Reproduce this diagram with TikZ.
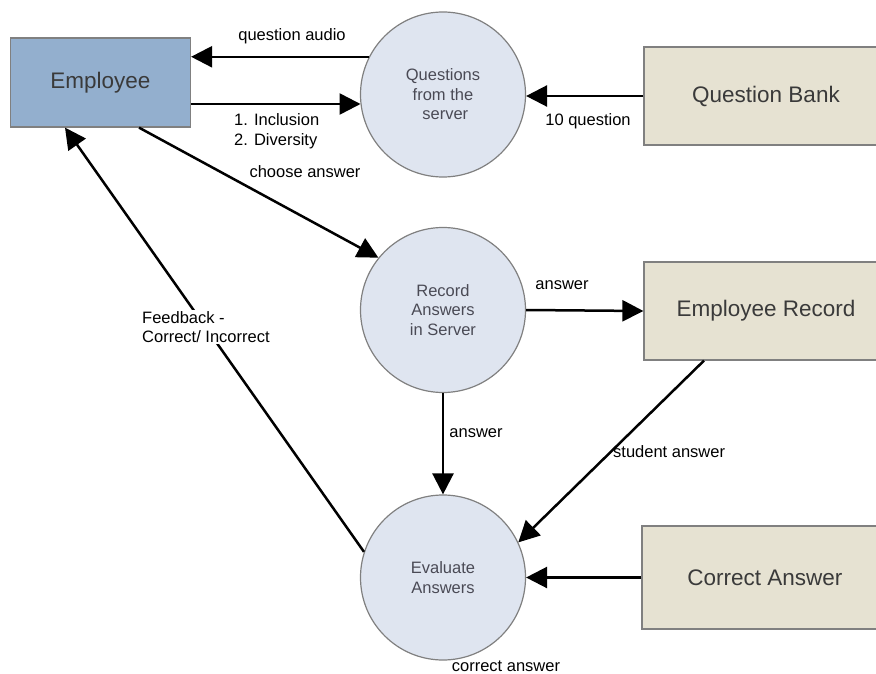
\documentclass[tikz,border=0pt]{standalone}
\usepackage{fontspec}
\setmainfont{Liberation Sans}
\usetikzlibrary{arrows.meta}
\definecolor{empfill}{HTML}{93AFCE}
\definecolor{storefill}{HTML}{E6E2D2}
\definecolor{procfill}{HTML}{DFE5F0}
\definecolor{edgegray}{HTML}{808080}
\definecolor{boxtext}{HTML}{3A3A3A}
\definecolor{proctext}{HTML}{4A4A55}
\begin{document}
\begin{tikzpicture}[x=1pt,y=-1pt,
  entity/.style={draw=edgegray,line width=1.2pt,rectangle,inner sep=0pt,
    text=boxtext,font=\fontsize{22.5}{27}\selectfont},
  process/.style={draw=edgegray,line width=1.2pt,circle,fill=procfill,
    minimum size=165pt,inner sep=0pt,align=center,text=proctext,
    font=\fontsize{16.5}{19.5}\selectfont},
  flow/.style={line width=2.5pt,-{Triangle[length=21pt,width=21pt]}},
  lbl/.style={inner sep=1pt,font=\fontsize{16.5}{19.5}\selectfont,align=left}]
\useasboundingbox (0,0) rectangle (876,674);

% external entities and data stores
\node[entity,fill=empfill,minimum width=180pt,minimum height=89pt] (emp) at (100.5,82.5) {Employee};
\node[entity,fill=storefill,minimum width=244pt,minimum height=98pt] (qb) at (766,96) {Question Bank};
\node[entity,fill=storefill,minimum width=244pt,minimum height=98pt] (er) at (766,311) {Employee Record};
\node[entity,fill=storefill,minimum width=246pt,minimum height=103pt] (ca) at (765,577.5) {Correct Answer};

% processes
\node[process] (qs) at (443,94.5) {Questions\\from the\\\ server};
\node[process] (rec) at (443,310) {Record\\Answers\\in Server};
\node[process] (ev) at (443,577.5) {Evaluate\\Answers};

% data flows
\draw[flow] (qs.153) -- (emp.east |- qs.153);
\node[lbl] (lqa) at (292,36) {question audio};

\coordinate (empout) at ([yshift=-21.5pt]emp.east);
\draw[flow] (empout) -- (empout -| qs.187);
\node[lbl,anchor=west] (lqi) at (233,131) {1. Inclusion\\2. Diversity};

\draw[flow] (qb.west) -- (qb.west -| qs.east);
\node[lbl] (lten) at (588,121) {10 question};

\draw[flow] ([xshift=38.5pt]emp.south) -- (rec.141);
\node[lbl] (lch) at (305,172) {choose answer};

\draw[flow] (rec.east) -- (er.west);
\node[lbl] (lans1) at (562,285) {answer};

\draw[flow] (rec.south) -- (ev.north);
\node[lbl] (lans2) at (476,433) {answer};

\draw[flow] ([xshift=-62pt]er.south) -- (ev.25);
\node[lbl,anchor=west] (lst) at (612,452) {student answer};

\draw[flow] (ca.west) -- (ev.east);

\draw[flow] (ev.162) -- ([xshift=-35.5pt]emp.south);
\node[lbl,anchor=west,fill=white] (lfb) at (141,327) {Feedback -\\Correct/ Incorrect};

\node[lbl] (lca) at (506,666) {correct answer};
\end{tikzpicture}
\end{document}
